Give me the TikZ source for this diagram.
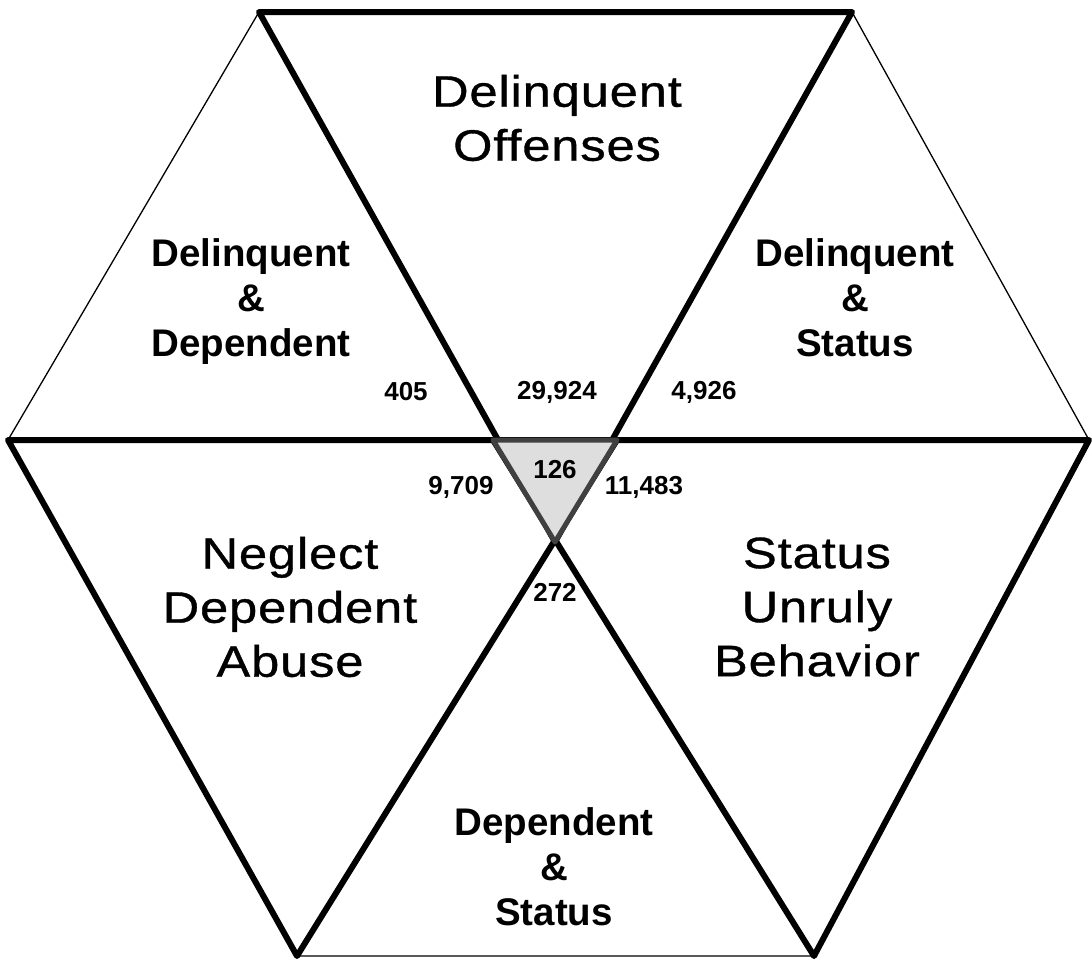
\documentclass[tikz,border=0pt]{standalone}
\usepackage{fontspec}
\setmainfont{Liberation Sans}
\newfontfamily\widefont[FakeStretch=1.15,FakeBold=0.8,LetterSpace=2]{Liberation Sans}
\begin{document}
\begin{tikzpicture}[x=1pt,y=-1pt,
  thick line/.style={line width=6pt,line join=round,line cap=round,black},
  thin line/.style={line width=1.3pt,black},
  base line/.style={line width=2pt,black!65},
  core/.style={line width=5pt,line join=round,draw=black!75,fill=black!13},
  biglabel/.style={align=center,font=\fontsize{44}{54}\selectfont\widefont},
  boldlabel/.style={align=center,font=\fontsize{38.5}{45}\selectfont\bfseries},
  num/.style={font=\fontsize{26}{28}\selectfont\bfseries}]
\useasboundingbox (0,0) rectangle (1092,961);
\coordinate (TL) at (259,12);
\coordinate (TR) at (852,12);
\coordinate (L) at (8,440);
\coordinate (R) at (1089,440);
\coordinate (BL) at (297,956);
\coordinate (BR) at (814,956);
\coordinate (C1) at (493,440);
\coordinate (C2) at (617,440);
\coordinate (C3) at (555,542);
% thin outer edges
\draw[thin line] (TL) -- (L);
\draw[thin line] (TR) -- (R);
\draw[base line] (BL) -- (BR);
% three overlapping triangles
\draw[thick line] (TL) -- (TR) -- (C3) -- cycle;
\draw[thick line] (L) -- (C2) -- (BL) -- cycle;
\draw[thick line] (C1) -- (R) -- (BR) -- cycle;
% common core
\draw[core] (C1) -- (C2) -- (C3) -- cycle;
% labels
\node[biglabel] (delinq) at (557,118) {Delinquent\\Offenses};
\node[biglabel] (neglect) at (290,607) {Neglect\\Dependent\\Abuse};
\node[biglabel] (status) at (817,607) {Status\\Unruly\\Behavior};
\node[boldlabel] (dd) at (251,302) {Delinquent\\\&\\Dependent};
\node[boldlabel] (ds) at (855,298) {Delinquent\\\&\\Status};
\node[boldlabel] (dps) at (554,867) {Dependent\\\&\\Status};
% counts
\node[num] (n405) at (406,392) {405};
\node[num] (n29924) at (557,392) {29,924};
\node[num] (n4926) at (704,392) {4,926};
\node[num] (n126) at (555,470) {126};
\node[num] (n9709) at (461,487) {9,709};
\node[num] (n11483) at (644,487) {11,483};
\node[num] (n272) at (555,592) {272};
\end{tikzpicture}
\end{document}
